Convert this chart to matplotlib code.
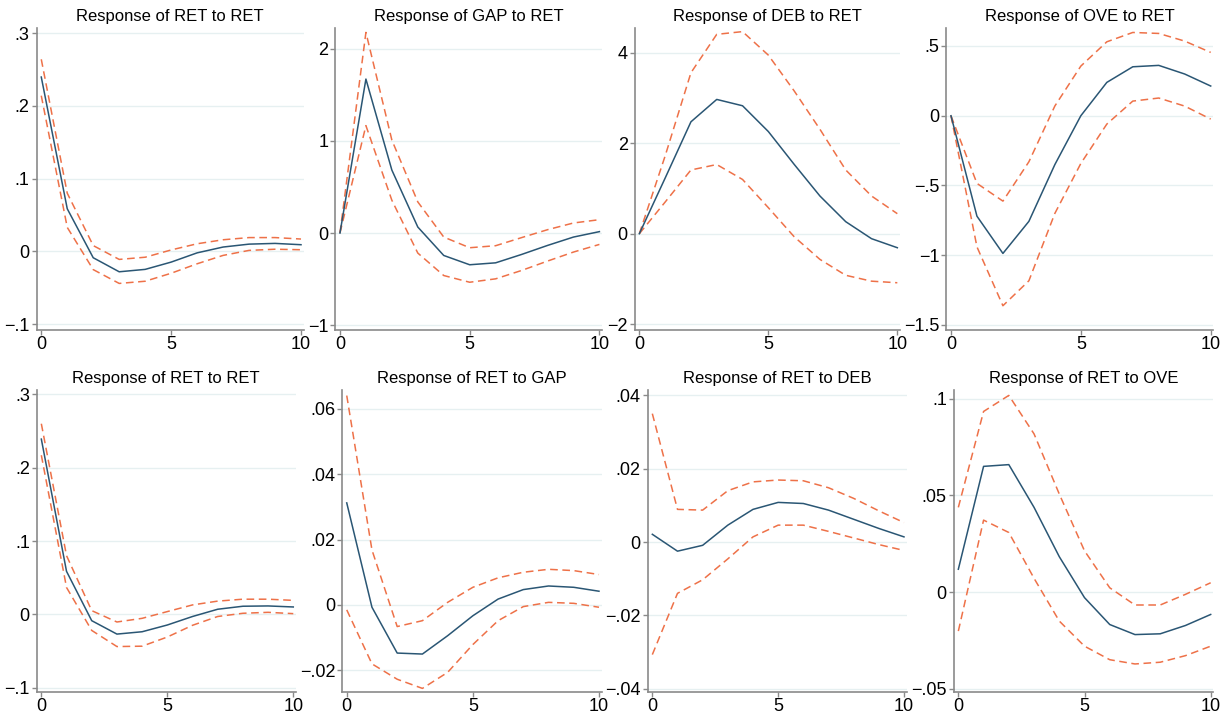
import numpy as np
import matplotlib
matplotlib.use('Agg')
import matplotlib.pyplot as plt
from matplotlib.ticker import FuncFormatter

plt.rcParams['font.family'] = ['Liberation Sans', 'DejaVu Sans']

horizon = np.arange(11)

# top row: responses of each variable to a RET shock
irf_ret_ret = [.2396, .0586, -.0087, -.028, -.0247, -.0147, -.002, .006, .010, .011, .0092]
hi_ret_ret = [.264, .080, .008, -.011, -.008, .002, .0105, .016, .019, .019, .017]
lo_ret_ret = [.214, .033, -.025, -.044, -.041, -.030, -.017, -.0055, .0014, .003, .0023]

irf_gap_ret = [0, 1.673, .684, .065, -.244, -.345, -.324, -.233, -.135, -.044, .015]
hi_gap_ret = [0, 2.18, 1.01, .338, -.044, -.16, -.138, -.05, .036, .109, .145]
lo_gap_ret = [0, 1.167, .356, -.218, -.462, -.535, -.498, -.407, -.305, -.207, -.124]

irf_deb_ret = [0, 1.23, 2.475, 2.97, 2.83, 2.26, 1.535, .834, .266, -.11, -.31]
hi_deb_ret = [0, 1.72, 3.56, 4.41, 4.47, 3.95, 3.16, 2.31, 1.41, .834, .443]
lo_deb_ret = [0, .70, 1.41, 1.53, 1.20, .576, -.066, -.568, -.92, -1.05, -1.085]

irf_ove_ret = [0, -.72, -.987, -.757, -.35, 0, .239, .351, .361, .299, .213]
hi_ove_ret = [0, -.485, -.612, -.33, .07, .356, .530, .597, .59, .535, .454]
lo_ove_ret = [0, -.94, -1.362, -1.183, -.70, -.342, -.06, .105, .127, .069, -.024]

# bottom row: responses of RET to each shock
irf_ret_ret2 = [.239, .0586, -.0087, -.027, -.0238, -.0146, -.003, .0069, .011, .0114, .010]
hi_ret_ret2 = [.260, .080, .005, -.0105, -.0055, .0037, .0128, .018, .0206, .0206, .019]
lo_ret_ret2 = [.217, .0366, -.022, -.044, -.0435, -.031, -.015, -.003, .0014, .0027, .0009]

irf_ret_gap = [.0312, -.0007, -.0147, -.015, -.0094, -.0033, .0018, .0047, .0058, .0054, .0042]
hi_ret_gap = [.064, .0168, -.0066, -.0048, .0008, .0054, .0083, .010, .0109, .0105, .0093]
lo_ret_gap = [-.0015, -.018, -.0227, -.0255, -.0206, -.0121, -.0048, -.0005, .0008, .0005, -.0007]

irf_ret_deb = [.0021, -.0025, -.0009, .0046, .0089, .0108, .0105, .0087, .0062, .0037, .0014]
hi_ret_deb = [.035, .0089, .0087, .014, .0164, .0169, .0167, .0148, .0119, .0085, .0053]
lo_ret_deb = [-.0307, -.014, -.0103, -.0046, .0014, .0046, .0046, .0029, .0011, -.0007, -.0023]

irf_ret_ove = [.0118, .065, .0659, .0438, .0183, -.0029, -.0168, -.022, -.0216, -.0173, -.0116]
hi_ret_ove = [.0438, .0934, .1017, .0818, .0507, .0213, .0022, -.0067, -.0067, -.0012, .0048]
lo_ret_ove = [-.0202, .0372, .0308, .0071, -.015, -.028, -.035, -.0372, -.0363, -.0329, -.028]

titles = ['Response of RET to RET', 'Response of GAP to RET', 'Response of DEB to RET',
          'Response of OVE to RET', 'Response of RET to RET', 'Response of RET to GAP',
          'Response of RET to DEB', 'Response of RET to OVE']
irfs = [irf_ret_ret, irf_gap_ret, irf_deb_ret, irf_ove_ret,
        irf_ret_ret2, irf_ret_gap, irf_ret_deb, irf_ret_ove]
his = [hi_ret_ret, hi_gap_ret, hi_deb_ret, hi_ove_ret,
       hi_ret_ret2, hi_ret_gap, hi_ret_deb, hi_ret_ove]
los = [lo_ret_ret, lo_gap_ret, lo_deb_ret, lo_ove_ret,
       lo_ret_ret2, lo_ret_gap, lo_ret_deb, lo_ret_ove]
yticks = [[-.1, 0, .1, .2, .3], [-1, 0, 1, 2], [-2, 0, 2, 4], [-1.5, -1, -.5, 0, .5],
          [-.1, 0, .1, .2, .3], [-.02, 0, .02, .04, .06], [-.04, -.02, 0, .02, .04],
          [-.05, 0, .05, .1]]
ylims = [(-.108, .307), (-1.054, 2.228), (-2.13, 4.55), (-1.536, .629),
         (-.106, .306), (-.0266, .0657), (-.0409, .04145), (-.0517, .1045)]

# panel boxes in pixels: left, right, top, bottom
W, H = 1221, 714
boxes = [(36.6, 303.6, 28, 330), (335.3, 602, 28, 330), (634.7, 899.9, 28, 330),
         (946.3, 1213.3, 28, 330), (36.8, 295.8, 390, 692), (342.2, 601.5, 390, 692),
         (647.8, 906.5, 390, 692), (953.8, 1213.2, 390, 692)]

blue = '#2a5674'
orange = '#ee7148'
grid = '#e6f0f1'
axcol = '#8a8a8a'


def stata_fmt(v, pos):
    s = '%g' % round(v, 6)
    if s.startswith('0.'):
        s = s[1:]
    elif s.startswith('-0.'):
        s = '-' + s[2:]
    return s.replace('-', '\u2212')


fig = plt.figure(figsize=(W / 100, H / 100), dpi=100)

for i in range(8):
    l, r, t, b = boxes[i]
    ax = fig.add_axes([l / W, 1 - b / H, (r - l) / W, (b - t) / H])
    for yt in yticks[i]:
        ax.axhline(yt, color=grid, lw=1.0, zorder=0)
    ax.plot(horizon, irfs[i], color=blue, lw=1.1, zorder=3)
    ax.plot(horizon, his[i], color=orange, lw=1.1, dashes=(5, 3), zorder=2)
    ax.plot(horizon, los[i], color=orange, lw=1.1, dashes=(5, 3), zorder=2)
    ax.set_xlim(-0.18, 10.1)
    ax.set_ylim(*ylims[i])
    ax.set_xticks([0, 5, 10])
    ax.set_yticks(yticks[i])
    ax.yaxis.set_major_formatter(FuncFormatter(stata_fmt))
    ax.spines['top'].set_visible(False)
    ax.spines['right'].set_visible(False)
    for sp in ['left', 'bottom']:
        ax.spines[sp].set_color(axcol)
        ax.spines[sp].set_linewidth(1.2)
    ax.tick_params(axis='both', colors='black', labelsize=13, length=3.5,
                   width=1.0, color=axcol)
    ax.tick_params(axis='x', pad=0.5)
    ax.tick_params(axis='y', pad=1.5)
    ax.set_title(titles[i], fontsize=12, pad=5)

fig.savefig('out.png', dpi=100, facecolor='white')
